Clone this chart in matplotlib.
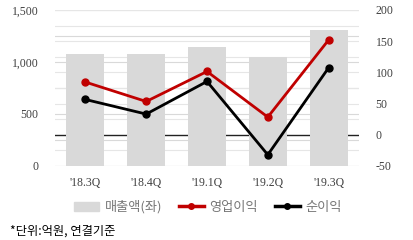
import matplotlib
matplotlib.use("Agg")
import matplotlib.pyplot as plt
import numpy as np
from matplotlib.lines import Line2D
from matplotlib.patches import Patch

categories = ["'18.3Q", "'18.4Q", "'19.1Q", "'19.2Q", "'19.3Q"]
sales = [1079, 1079, 1146, 1050, 1310]
op_profit = [84.5, 53.4, 101.5, 28.4, 152]
net_profit = [56.6, 33.2, 85.5, -32, 107.4]

plt.rcParams['font.family'] = ['Noto Sans CJK KR', 'DejaVu Sans']

fig = plt.figure(figsize=(4.14, 2.40), dpi=100)
ax = fig.add_axes([55/414, 1 - 166/240, 304/414, 156/240])
ax2 = ax.twinx()

x = np.arange(len(categories))
ax.set_xlim(-0.5, 4.5)
ax.set_ylim(0, 1500)
ax2.set_ylim(-50, 200)

# gridlines
for v in np.arange(0, 1501, 250):
    ax.axhline(v, color='#d9d9d9', lw=0.8, zorder=0)
for v in np.arange(-50, 201, 25):
    if v == 0:
        continue
    ax.axhline((v + 50) * 6, color='#e6e6e6', lw=0.8, zorder=0)
# zero line of the right axis (sits below bars)
ax.axhline(300, color='#222222', lw=1.0, zorder=0.5)

ax.bar(x, sales, width=0.625, color='#d9d9d9', zorder=1)
ax.set_zorder(ax2.get_zorder() - 1)
ax.patch.set_visible(False)
ax2.plot(x, op_profit, color='#c00000', lw=2, marker='o', ms=5, zorder=3)
ax2.plot(x, net_profit, color='#000000', lw=2, marker='o', ms=5, zorder=3)

serif = ['Liberation Serif', 'DejaVu Serif']
ax.set_yticks([0, 500, 1000, 1500])
ax.set_yticklabels(['0', '500', '1,000', '1,500'], fontfamily=serif, fontsize=8.5, color='#404040')
ax2.set_yticks([-50, 0, 50, 100, 150, 200])
ax2.set_yticklabels(['-50', '0', '50', '100', '150', '200'], fontfamily=serif, fontsize=8.5, color='#404040')
ax.set_xticks(x)
ax.set_xticklabels(categories, fontfamily=serif, fontsize=8.5, color='#404040')
for a in (ax, ax2):
    a.tick_params(length=0)
    for s in a.spines.values():
        s.set_visible(False)
ax.tick_params(axis='x', pad=8)
ax.tick_params(axis='y', pad=12)
ax2.tick_params(axis='y', pad=12)

handles = [Patch(color='#d9d9d9'),
           Line2D([0], [0], color='#c00000', lw=2.5, marker='o', ms=4),
           Line2D([0], [0], color='#000000', lw=2.5, marker='o', ms=4)]
labels = ['매출액(좌)', '영업이익', '순이익']
fig.legend(handles, labels, loc='center', bbox_to_anchor=(208/414, 1 - 207/240), ncol=3,
           frameon=False, fontsize=9.5, labelcolor='#777777', handlelength=1.85,
           handleheight=0.65, columnspacing=1.3, handletextpad=0.45)

fig.text(10/414, 1 - 231/240, '*단위:억원, 연결기준', fontsize=8.8, va='center', ha='left', color='#000000')

fig.savefig('out.png', dpi=100)
